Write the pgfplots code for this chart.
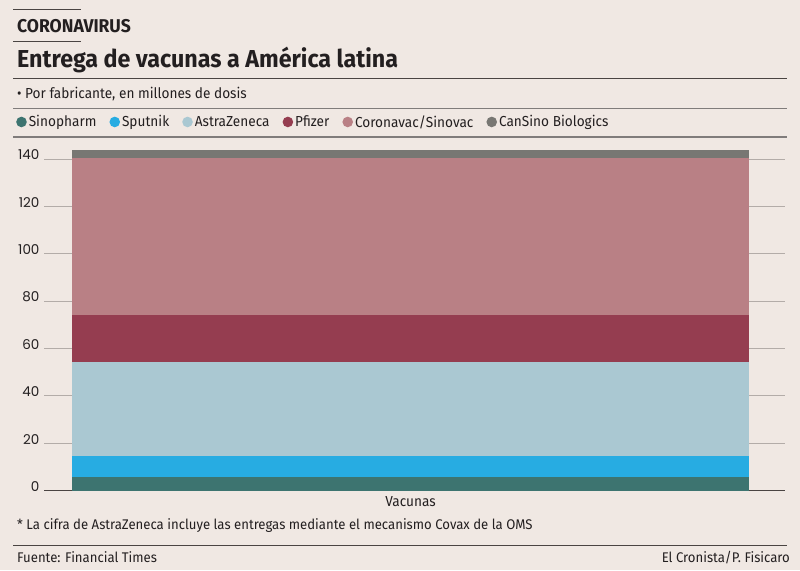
\documentclass[border=0pt]{standalone}
\usepackage{fontspec}
\usepackage{pgfplots}
\pgfplotsset{compat=1.18}
\setmainfont{Fira Sans}[FakeStretch=0.94]
\newfontfamily\titlefont{Fira Sans}[FakeStretch=0.95]
\newfontfamily\tickfont{Poppins}
\definecolor{bgc}{HTML}{F0E8E3}
\definecolor{ink}{HTML}{231F20}
\definecolor{rulec}{HTML}{4A4442}
\definecolor{gridc}{HTML}{B3ACA8}
\definecolor{cSinopharm}{HTML}{3D7470}
\definecolor{cSputnik}{HTML}{27ACE2}
\definecolor{cAstra}{HTML}{AAC8D2}
\definecolor{cPfizer}{HTML}{953D50}
\definecolor{cCoronavac}{HTML}{B98085}
\definecolor{cCanSino}{HTML}{787773}
\begin{document}
\begin{tikzpicture}[x=1pt,y=1pt]
\fill[bgc] (0,0) rectangle (800,570);
\useasboundingbox (0,0) rectangle (800,570);
% header rules
\draw[rulec,line width=1pt] (13,560) -- (81,560);
\draw[rulec,line width=1pt] (13,528) -- (81,528);
\draw[rulec,line width=1pt] (13,491) -- (787,491);
\draw[rulec!70,line width=0.8pt] (13,462) -- (787,462);
\draw[rulec!70,line width=2pt] (13,433) -- (787,433);
\draw[rulec,line width=1pt] (13,25) -- (787,25);
% texts
\node[anchor=base west,inner sep=0pt,text=ink,font=\titlefont\bfseries\fontsize{18.5}{18.5}\selectfont] at (17,537) {CORONAVIRUS};
\node[anchor=base west,inner sep=0pt,text=ink,font=\titlefont\bfseries\fontsize{24.5}{24.5}\selectfont] at (17,502) {Entrega de vacunas a América latina};
\node[anchor=base west,inner sep=0pt,text=ink,font=\fontsize{14.5}{14.5}\selectfont] at (17,471) {\textbullet\ Por fabricante, en millones de dosis};
\node[anchor=base west,inner sep=0pt,text=ink,font=\fontsize{14}{14}\selectfont] at (17,40) {* La cifra de AstraZeneca incluye las entregas mediante el mecanismo Covax de la OMS};
\node[anchor=base west,inner sep=0pt,text=ink,font=\fontsize{14}{14}\selectfont] at (17,8) {Fuente: Financial Times};
\node[anchor=base east,inner sep=0pt,text=ink,font=\fontsize{14}{14}\selectfont] at (790,8) {El Cronista/P. Fisicaro};
\begin{axis}[
  at={(44pt,79.3pt)}, anchor=south west,
  scale only axis, width=741pt, height=345.9pt,
  ybar stacked, bar width=677pt,
  xmin=-366.5, xmax=374.5, ymin=0, ymax=146,
  axis line style={draw=none},
  major tick length=0pt,
  xtick={0}, xticklabels={Vacunas},
  xticklabel style={font=\fontsize{14.5}{14.5}\selectfont, text=ink, yshift=-2pt},
  ytick={0,20,...,140},
  yticklabel style={font=\tickfont\fontsize{13.5}{13.5}\selectfont, text=ink, anchor=east, xshift=-1pt, yshift=4pt},
  /pgf/number format/assume math mode=true,
  ymajorgrids, grid style={gridc,line width=1pt},
  clip=false,
  legend columns=-1,
  legend style={draw=none,fill=none,at={(-0.0378,1.066)},anchor=west,
    font=\fontsize{14.5}{14.5}\selectfont, text=ink,
    /tikz/every even column/.append style={column sep=11pt},
    inner sep=0pt},
  legend image code/.code={\fill[#1,draw=none] (2pt,0pt) circle (5.3pt);},
]
\addplot[fill=cSinopharm,draw=none] coordinates {(0,5.9)};
\addplot[fill=cSputnik,draw=none] coordinates {(0,8.9)};
\addplot[fill=cAstra,draw=none] coordinates {(0,39.5)};
\addplot[fill=cPfizer,draw=none] coordinates {(0,19.9)};
\addplot[fill=cCoronavac,draw=none] coordinates {(0,66.1)};
\addplot[fill=cCanSino,draw=none] coordinates {(0,3.4)};
\legend{Sinopharm,Sputnik,AstraZeneca,Pfizer,Coronavac/Sinovac,CanSino Biologics}
\draw[rulec,line width=1.5pt] (axis cs:-366.5,0) -- (axis cs:374.5,0);
\end{axis}
\end{tikzpicture}
\end{document}
